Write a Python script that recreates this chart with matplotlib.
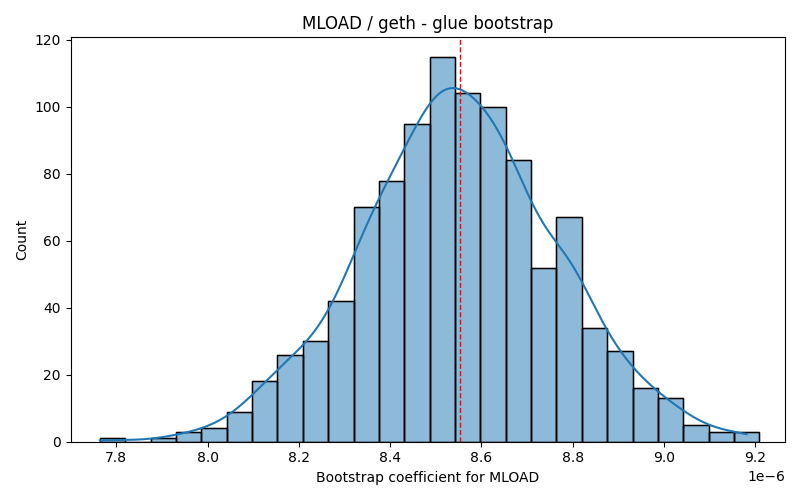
import numpy as np
import matplotlib.pyplot as plt

# histogram (26 bins)
bin_start = 7.764e-6
bin_end = 9.209e-6
counts = [1, 0, 1, 3, 4, 9, 18, 26, 30, 42, 70, 78, 95, 115, 104, 100,
          84, 52, 67, 34, 27, 16, 13, 5, 3, 3]
mean_line = 8.553e-6

edges = np.linspace(bin_start, bin_end, len(counts) + 1)
width = edges[1] - edges[0]
centers = (edges[:-1] + edges[1:]) / 2
w = np.array(counts, dtype=float)
n = w.sum()

# gaussian kde on binned data, scaled to counts
mu = np.sum(centers * w) / n
sd = np.sqrt(np.sum(w * (centers - mu) ** 2) / n)
bw = sd * n ** (-1 / 5)
xs = np.linspace(centers[0] - width / 2, edges[-1] - width / 2, 400)
dens = np.sum(w[None, :] * np.exp(-0.5 * ((xs[:, None] - centers[None, :]) / bw) ** 2), axis=1)
dens = dens / (n * bw * np.sqrt(2 * np.pi)) * n * width

fig, ax = plt.subplots(figsize=(8, 5), dpi=100)
ax.bar(edges[:-1], counts, width=width, align='edge', color='#1f77b4', alpha=0.5,
       edgecolor='black', linewidth=1)
ax.bar(edges[:-1], counts, width=width, align='edge', fill=False,
       edgecolor='black', linewidth=1)
ax.plot(xs, dens, color='#1f77b4', linewidth=1.5)
ax.axvline(mean_line, color='red', linestyle='--', linewidth=1)
ax.set_xlim(7.7e-6, 9.265e-6)
ax.set_title("MLOAD / geth - glue bootstrap")
ax.set_xlabel("Bootstrap coefficient for MLOAD")
ax.set_ylabel("Count")
fig.tight_layout()
fig.savefig("out.png")
